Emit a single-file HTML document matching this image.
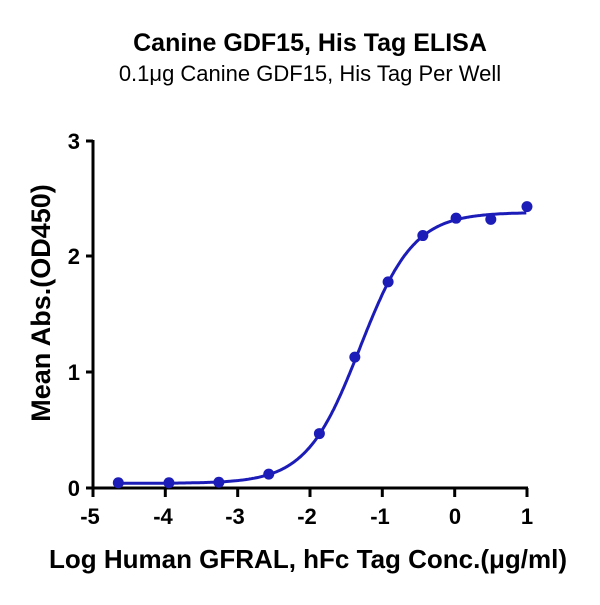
<!DOCTYPE html>
<html><head><meta charset="utf-8"><style>
html,body{margin:0;padding:0;background:#fff;}
</style></head><body>
<svg id="s" width="600" height="600" xmlns="http://www.w3.org/2000/svg" font-family="Liberation Sans, Arial, sans-serif">
<rect width="600" height="600" fill="#fff"/>
<text x="310" y="51" text-anchor="middle" font-size="25" font-weight="bold">Canine GDF15, His Tag ELISA</text>
<text x="310" y="81" text-anchor="middle" font-size="22">0.1μg Canine GDF15, His Tag Per Well</text>
<g stroke="#000" stroke-width="3" fill="none">
<line x1="93" y1="140" x2="93" y2="489"/>
<line x1="92" y1="488" x2="528" y2="488"/>
<line x1="86" y1="141" x2="93" y2="141"/>
<line x1="86" y1="256" x2="93" y2="256"/>
<line x1="86" y1="372" x2="93" y2="372"/>
<line x1="86" y1="488" x2="93" y2="488"/>
<line x1="93" y1="488" x2="93" y2="497"/>
<line x1="165.3" y1="488" x2="165.3" y2="497"/>
<line x1="237.7" y1="488" x2="237.7" y2="497"/>
<line x1="310" y1="488" x2="310" y2="497"/>
<line x1="382.3" y1="488" x2="382.3" y2="497"/>
<line x1="454.7" y1="488" x2="454.7" y2="497"/>
<line x1="527" y1="488" x2="527" y2="497"/>
</g>
<g font-size="22" font-weight="bold" text-anchor="end">
<text x="80" y="149">3</text><text x="80" y="264">2</text><text x="80" y="380">1</text><text x="80" y="496">0</text>
</g>
<g font-size="22" font-weight="bold" text-anchor="middle">
<text x="90" y="524">-5</text><text x="163" y="524">-4</text><text x="235" y="524">-3</text><text x="307" y="524">-2</text><text x="380" y="524">-1</text><text x="455" y="524">0</text><text x="527" y="524">1</text>
</g>
<text x="308" y="568" text-anchor="middle" font-size="26" font-weight="bold">Log Human GFRAL, hFc Tag Conc.(μg/ml)</text>
<text transform="translate(50,303) rotate(-90)" text-anchor="middle" font-size="27" font-weight="bold">Mean Abs.(OD450)</text>
<path id="c" fill="none" stroke="#1c1cb8" stroke-width="3"/>
<g id="p" fill="#1c1cb8"></g>
</svg>
<script>
var X=function(v){return 93+(v+5)*72.33},Y=function(v){return 488-v*115.8};
var b=0.04,t=2.38,c=-1.31,h=1.17,d="";
for(var x=-4.65;x<=1.001;x+=0.02){var y=b+(t-b)/(1+Math.pow(10,(c-x)*h));d+=(d?"L":"M")+X(x).toFixed(1)+","+Y(y).toFixed(1);}
document.getElementById("c").setAttribute("d",d);
var pts=[[-4.65,0.045],[-3.95,0.045],[-3.26,0.05],[-2.57,0.12],[-1.87,0.47],[-1.38,1.13],[-0.92,1.78],[-0.44,2.18],[0.02,2.33],[0.5,2.32],[1.0,2.43]];
var g=document.getElementById("p"),s="";
pts.forEach(function(p){s+='<circle cx="'+X(p[0])+'" cy="'+Y(p[1])+'" r="5.5"/>';});
g.innerHTML=s;
</script>
</body></html>
